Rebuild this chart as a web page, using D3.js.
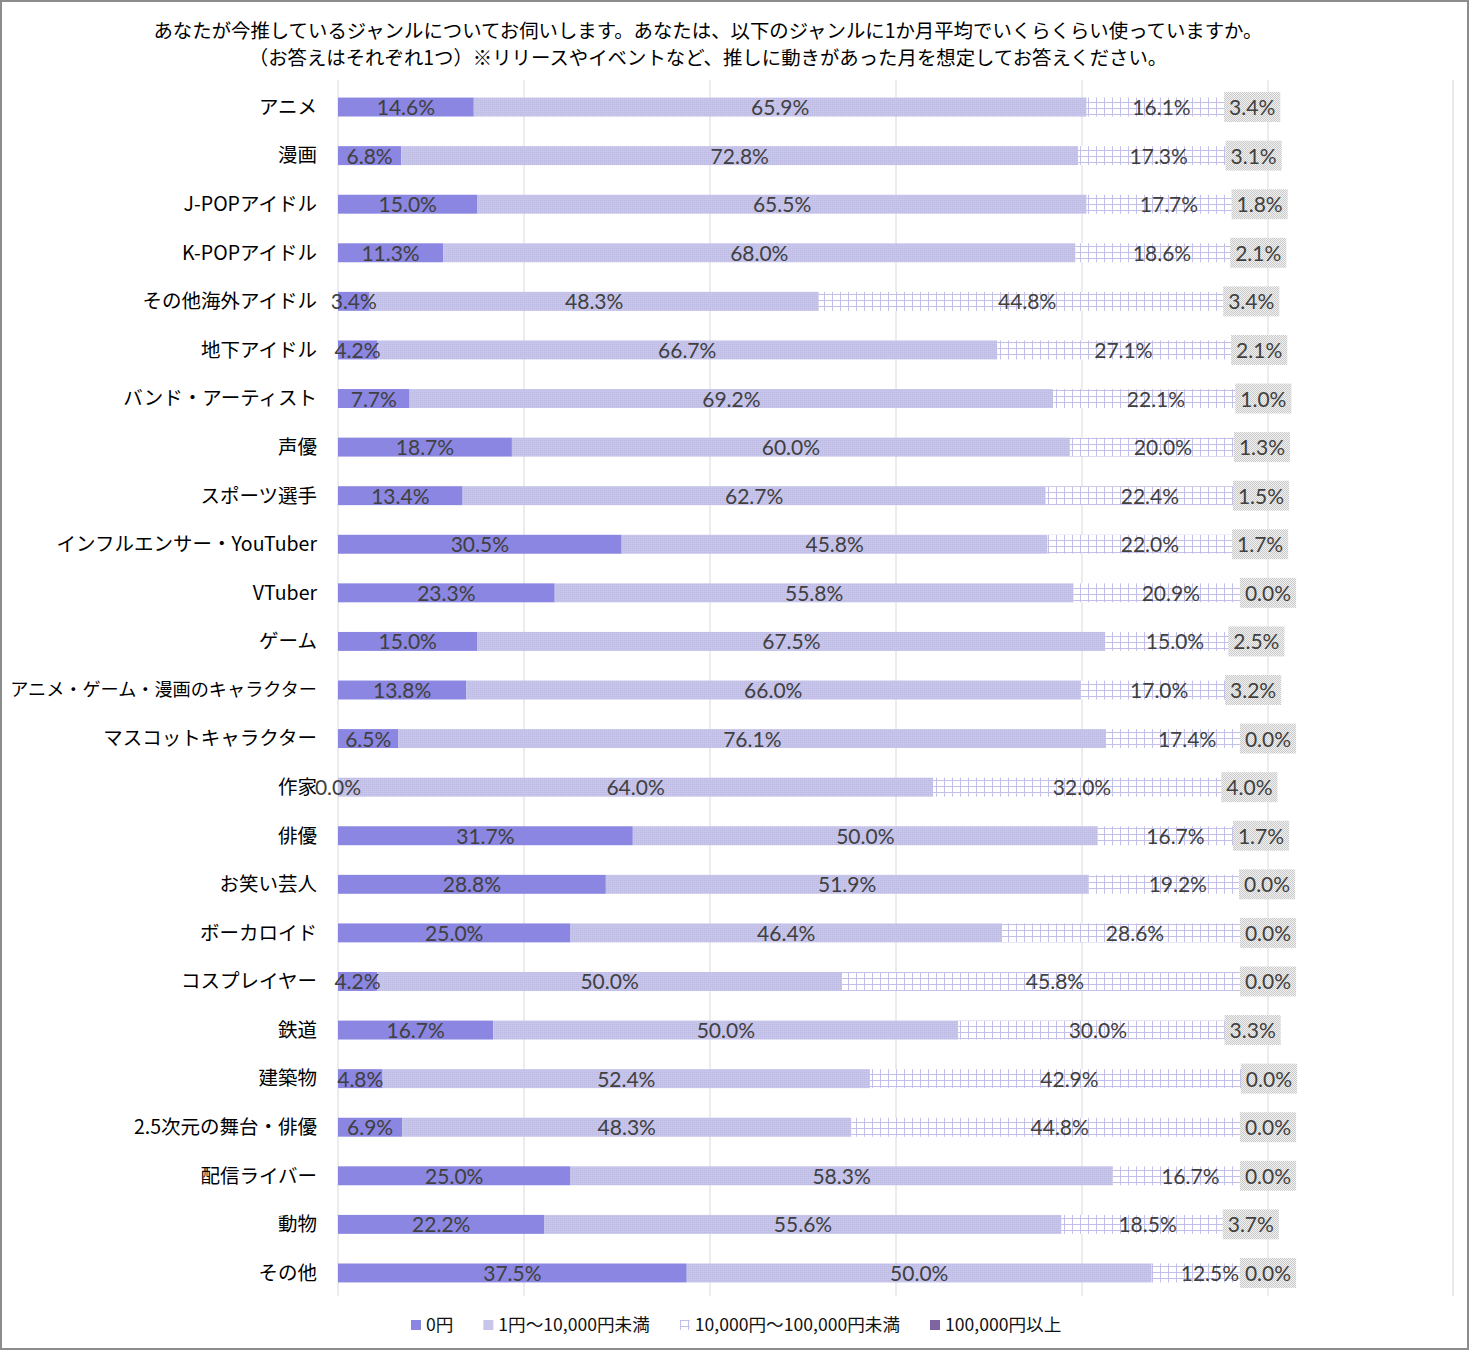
<!DOCTYPE html>
<html>
<head>
<meta charset="utf-8">
<script src="https://cdn.jsdelivr.net/npm/d3@7"></script>
<style>
  body { margin: 0; background: #fff; }
  svg { display: block; }
</style>
</head>
<body>
<div id="chart"></div>
<script>
// 推しジャンル別 月平均支出
const categories = [
  "アニメ", "漫画", "J-POPアイドル", "K-POPアイドル", "その他海外アイドル",
  "地下アイドル", "バンド・アーティスト", "声優", "スポーツ選手",
  "インフルエンサー・YouTuber", "VTuber", "ゲーム",
  "アニメ・ゲーム・漫画のキャラクター", "マスコットキャラクター", "作家",
  "俳優", "お笑い芸人", "ボーカロイド", "コスプレイヤー", "鉄道", "建築物",
  "2.5次元の舞台・俳優", "配信ライバー", "動物", "その他"
];
const seriesNames = ["0円", "1円～10,000円未満", "10,000円～100,000円未満", "100,000円以上"];
const yen0 = [14.6, 6.8, 15.0, 11.3, 3.4, 4.2, 7.7, 18.7, 13.4, 30.5, 23.3, 15.0, 13.8, 6.5, 0.0, 31.7, 28.8, 25.0, 4.2, 16.7, 4.8, 6.9, 25.0, 22.2, 37.5];
const yenUnder10k = [65.9, 72.8, 65.5, 68.0, 48.3, 66.7, 69.2, 60.0, 62.7, 45.8, 55.8, 67.5, 66.0, 76.1, 64.0, 50.0, 51.9, 46.4, 50.0, 50.0, 52.4, 48.3, 58.3, 55.6, 50.0];
const yenUnder100k = [16.1, 17.3, 17.7, 18.6, 44.8, 27.1, 22.1, 20.0, 22.4, 22.0, 20.9, 15.0, 17.0, 17.4, 32.0, 16.7, 19.2, 28.6, 45.8, 30.0, 42.9, 44.8, 16.7, 18.5, 12.5];
const yenOver100k = [3.4, 3.1, 1.8, 2.1, 3.4, 2.1, 1.0, 1.3, 1.5, 1.7, 0.0, 2.5, 3.2, 0.0, 4.0, 1.7, 0.0, 0.0, 0.0, 3.3, 0.0, 0.0, 0.0, 3.7, 0.0];
const xTicks = [0, 20, 40, 60, 80, 100];

const W = 1469, H = 1350;
const svg = d3.select("#chart").append("svg").attr("width", W).attr("height", H);

// patterns
const defs = svg.append("defs");
const pDot = defs.append("pattern").attr("id", "p1").attr("width", 2).attr("height", 2).attr("patternUnits", "userSpaceOnUse");
pDot.append("rect").attr("width", 2).attr("height", 2).attr("fill", "#c7c5ea");
pDot.append("rect").attr("width", 1).attr("height", 1).attr("fill", "#bcb9e3");
const pGrid = defs.append("pattern").attr("id", "p2").attr("width", 8).attr("height", 6).attr("patternUnits", "userSpaceOnUse");
pGrid.append("rect").attr("width", 8).attr("height", 6).attr("fill", "#fff");
pGrid.append("rect").attr("x", 0).attr("width", 1).attr("height", 6).attr("fill", "#c2bfeb");
pGrid.append("rect").attr("y", 0).attr("width", 8).attr("height", 1).attr("fill", "#c2bfeb");
const pBox = defs.append("pattern").attr("id", "pbox").attr("width", 2).attr("height", 2).attr("patternUnits", "userSpaceOnUse");
pBox.append("rect").attr("width", 2).attr("height", 2).attr("fill", "#f2f2f2");
pBox.append("rect").attr("width", 1).attr("height", 1).attr("fill", "#c9c9c9");
pBox.append("rect").attr("x", 1).attr("y", 1).attr("width", 1).attr("height", 1).attr("fill", "#c9c9c9");

const fills = ["#8a86e1", "url(#p1)", "url(#p2)", "#7f64a2"];
const legendFills = ["#8a86e1", "#c7c5ea", "url(#p2)", "#7f64a2"];

// frame
svg.append("rect").attr("x", 1).attr("y", 1).attr("width", W - 2).attr("height", H - 2)
  .attr("fill", "none").attr("stroke", "#8c8c8c").attr("stroke-width", 2);

// title
const title = svg.append("text").attr("x", 708).attr("y", 38)
  .attr("text-anchor", "middle").attr("font-family", "'Noto Sans CJK JP'")
  .attr("font-size", 19.4).attr("fill", "#000");
title.append("tspan").attr("x", 708).attr("dy", 0)
  .text("あなたが今推しているジャンルについてお伺いします。あなたは、以下のジャンルに1か月平均でいくらくらい使っていますか。");
title.append("tspan").attr("x", 708).attr("dy", 27)
  .text("（お答えはそれぞれ1つ）※リリースやイベントなど、推しに動きがあった月を想定してお答えください。");

const x = d3.scaleLinear().domain([0, 100]).range([338, 1268]);
const y = d3.scaleBand().domain(categories).range([83, 1297]).paddingInner(0.61).paddingOuter(0.3);

// gridlines
svg.append("g").selectAll("line").data(xTicks).join("line")
  .attr("x1", d => x(d)).attr("x2", d => x(d))
  .attr("y1", 80).attr("y2", 1296)
  .attr("stroke", "#d9d9d9").attr("stroke-width", 1);
svg.append("line").attr("x1", 1453).attr("x2", 1453).attr("y1", 80).attr("y2", 1296)
  .attr("stroke", "#e3e3e3").attr("stroke-width", 1.5);

// stack
const rows = categories.map((c, i) => ({ cat: c, v: [yen0[i], yenUnder10k[i], yenUnder100k[i], yenOver100k[i]] }));
const segs = [];
rows.forEach(r => {
  let acc = 0;
  r.v.forEach((v, k) => {
    segs.push({ cat: r.cat, k, v, x0: acc, x1: acc + v });
    acc += v;
  });
});

const bh = y.bandwidth();
svg.append("g").selectAll("rect").data(segs).join("rect")
  .attr("x", d => x(d.x0)).attr("width", d => Math.max(0, x(d.x1) - x(d.x0)))
  .attr("y", d => y(d.cat)).attr("height", bh)
  .attr("fill", d => fills[d.k]);

// category labels: 長いものは左端(x=10)に収まるよう縮める
const cl = svg.append("g").attr("font-family", "'Noto Sans CJK JP'").attr("fill", "#000");
categories.forEach(c => {
  const t = cl.append("text").attr("x", 317).attr("y", y(c) + bh / 2)
    .attr("dy", "0.35em").attr("text-anchor", "end")
    .attr("font-size", 19.5).text(c);
  const w = t.node().getComputedTextLength();
  if (w > 307) t.attr("font-size", 19.5 * 307 / w);
});

// value labels
const lab = svg.append("g").attr("font-family", "Lato, 'Noto Sans'").attr("font-size", 21).attr("fill", "#404040");
segs.forEach(d => {
  const cx = (x(d.x0) + x(d.x1)) / 2;
  const cy = y(d.cat) + bh / 2;
  const t = lab.append("text").attr("x", cx).attr("y", cy).attr("dy", "0.38em")
    .attr("text-anchor", "middle").text(d.v.toFixed(1) + "%");
  if (d.k === 3) {
    const w = t.node().getComputedTextLength();
    lab.insert("rect", () => t.node())
      .attr("x", cx - w / 2 - 5).attr("y", cy - 15)
      .attr("width", w + 10).attr("height", 30)
      .attr("fill", "url(#pbox)");
  }
});

// legend
const lg = svg.append("g").attr("font-family", "'Noto Sans CJK JP'").attr("font-size", 17.6).attr("fill", "#111");
let lx = 411;
seriesNames.forEach((n, k) => {
  lg.append("rect").attr("x", lx).attr("y", 1320).attr("width", 10).attr("height", 10)
    .attr("fill", legendFills[k]);
  const t = lg.append("text").attr("x", lx + 15).attr("y", 1325).attr("dy", "0.36em").text(n);
  lx += 15 + t.node().getComputedTextLength() + 30;
});
</script>
</body>
</html>
